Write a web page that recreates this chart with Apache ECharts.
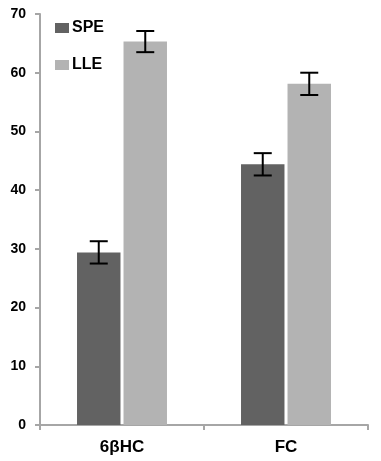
<!DOCTYPE html>
<html><head><meta charset="utf-8">
<script src="https://cdn.jsdelivr.net/npm/echarts@6/dist/echarts.min.js"></script>
<style>html,body{margin:0;padding:0;background:#fff}#c{width:381px;height:461px}</style>
</head><body><div id="c"></div>
<script>
var categories = ['6\u03B2HC', 'FC'];
var speValues = [29.4, 44.4];
var speErrors = [1.9, 1.9];
var lleValues = [65.3, 58.1];
var lleErrors = [1.8, 1.9];
var yTicks = [0, 10, 20, 30, 40, 50, 60, 70];

var chart = echarts.init(document.getElementById('c'));
var BW = 0.265, GAP = 0.07;
function errSeries(vals, errs, idx) {
  return {
    type: 'custom',
    z: 10,
    data: vals.map(function (v, i) { return [i, v - errs[i], v + errs[i]]; }),
    renderItem: function (params, api) {
      var band = api.size([1, 0])[0];
      var bw = band * BW, gap = bw * GAP;
      var off = (idx === 0 ? -1 : 1) * (bw + gap) / 2;
      var lo = api.coord([api.value(0), api.value(1)]);
      var hi = api.coord([api.value(0), api.value(2)]);
      var x = lo[0] + off, hw = 9;
      var st = { stroke: '#000', lineWidth: 2 };
      return { type: 'group', children: [
        { type: 'line', shape: { x1: x, y1: lo[1], x2: x, y2: hi[1] }, style: st },
        { type: 'line', shape: { x1: x - hw, y1: lo[1], x2: x + hw, y2: lo[1] }, style: st },
        { type: 'line', shape: { x1: x - hw, y1: hi[1], x2: x + hw, y2: hi[1] }, style: st }
      ]};
    }
  };
}
chart.setOption({
  animation: false,
  grid: { left: 40, right: 13, top: 14, bottom: 36 },
  legend: {
    orient: 'vertical', left: 55, top: 20, padding: 0,
    itemWidth: 14, itemHeight: 10, itemGap: 21,
    icon: 'rect',
    data: ['SPE', 'LLE'],
    textStyle: { fontFamily: 'Liberation Sans, Arial', fontWeight: 'bold', fontSize: 16, lineHeight: 15, color: '#000', padding: [0,0,0,-2] }
  },
  xAxis: {
    type: 'category', data: categories,
    axisLine: { lineStyle: { color: '#a6a6a6', width: 2 } },
    axisTick: { show: true, length: 5, lineStyle: { color: '#a6a6a6', width: 2 } },
    axisLabel: { fontFamily: 'Liberation Sans, Arial', fontWeight: 'bold', fontSize: 17, color: '#000', margin: 14 }
  },
  yAxis: {
    type: 'value', min: yTicks[0], max: yTicks[yTicks.length - 1], interval: 10,
    splitLine: { show: false },
    axisLine: { show: true, lineStyle: { color: '#a6a6a6', width: 2 } },
    axisTick: { show: true, length: 5, lineStyle: { color: '#a6a6a6', width: 2 } },
    axisLabel: { fontFamily: 'Liberation Sans, Arial', fontWeight: 'bold', fontSize: 14, color: '#000', margin: 14, padding: [4,0,0,0] }
  },
  series: [
    { name: 'SPE', type: 'bar', data: speValues, barWidth: (BW * 100) + '%', barGap: (GAP * 100) + '%', itemStyle: { color: '#626262' } },
    { name: 'LLE', type: 'bar', data: lleValues, barWidth: (BW * 100) + '%', barGap: (GAP * 100) + '%', itemStyle: { color: '#b3b3b3' } },
    errSeries(speValues, speErrors, 0),
    errSeries(lleValues, lleErrors, 1)
  ]
});
</script></body></html>
